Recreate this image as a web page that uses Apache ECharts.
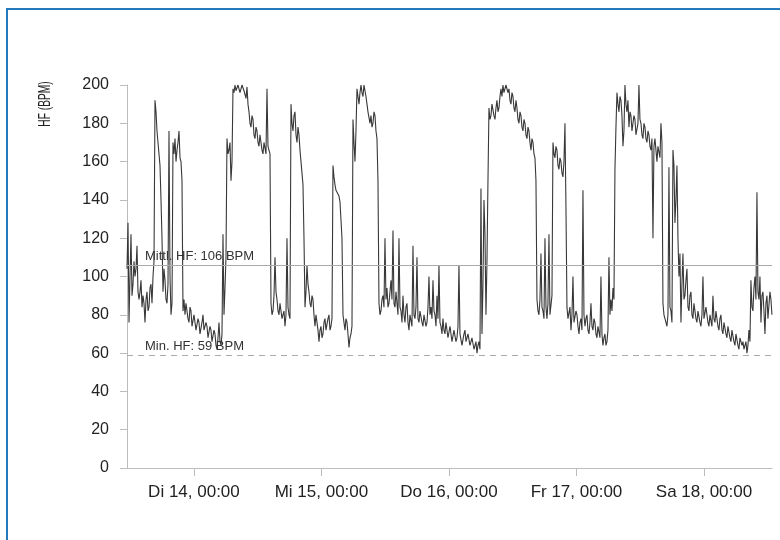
<!DOCTYPE html>
<html>
<head>
<meta charset="utf-8">
<script src="https://cdn.jsdelivr.net/npm/echarts@6/dist/echarts.min.js"></script>
<style>
html,body{margin:0;padding:0;background:#fff;}
#chart{width:780px;height:540px;}
</style>
</head>
<body>
<div id="chart"></div>
<script>
// Heart rate samples (BPM), one every ~11.3 min, starting Mo 13 ~11:24
const startHour = 11.4;      // hours since Mo 13, 00:00
const stepHours = 0.1882;    // sampling interval in hours
const hr = [
104,128,76,100,122,90,96,108,100,104,116,92,88,92,98,84,90,86,76,88,
92,82,84,94,96,86,100,108,192,186,176,170,164,158,140,120,92,104,98,88,
86,96,176,100,80,86,170,164,172,160,166,170,176,162,160,150,82,88,80,86,
86,78,76,84,82,74,74,80,80,72,72,78,76,70,70,76,80,72,72,76,
74,68,68,74,72,66,66,72,70,64,62,68,76,66,64,70,122,80,94,110,
172,164,166,170,150,160,198,196,200,197,197,200,200,196,198,200,200,197,197,193,
199,190,186,180,178,184,182,174,172,178,176,170,168,174,174,166,164,170,170,164,
198,168,166,164,86,80,82,90,110,92,88,82,80,86,86,78,78,82,74,80,
120,84,80,78,190,180,176,184,186,174,170,178,174,166,160,154,148,120,84,92,
106,96,92,86,84,90,88,80,74,80,80,72,66,72,74,68,70,76,78,72,
72,78,80,72,74,78,158,152,148,145,144,146,142,139,140,120,80,76,72,78,
76,70,63,68,70,74,182,170,160,176,198,194,190,196,200,196,194,200,200,194,
190,186,186,180,184,178,180,186,184,176,172,150,86,80,82,88,90,84,120,88,
94,84,86,92,98,88,124,86,84,92,92,80,120,84,82,76,90,80,76,84,
86,76,72,80,80,74,116,80,78,84,110,78,76,82,82,76,74,80,80,74,
76,84,100,80,84,78,98,82,80,74,90,78,106,76,74,70,78,72,70,76,
76,68,68,74,74,66,66,72,72,66,68,74,106,70,70,64,64,70,72,66,
66,70,70,64,64,68,68,62,62,66,60,64,66,62,146,70,96,140,122,80,
108,150,188,182,184,190,190,184,182,188,192,186,188,194,198,194,200,196,196,200,
200,196,198,192,190,196,194,188,186,192,188,182,180,186,184,178,176,182,180,174,
172,178,176,170,166,172,170,164,162,150,88,82,80,88,112,84,82,78,120,84,
78,86,122,80,80,90,170,164,162,168,166,158,156,162,160,154,152,160,180,136,
84,78,78,84,72,80,100,76,76,82,80,74,70,76,78,72,145,80,74,78,
80,72,70,76,86,74,72,78,76,70,68,74,74,68,100,70,64,68,70,64,
66,72,110,80,88,82,94,88,156,178,196,190,186,194,192,184,168,176,200,190,
186,192,178,186,184,176,176,184,182,174,174,180,200,182,180,174,172,180,178,172,
170,176,174,168,166,172,120,168,172,166,160,168,168,162,180,170,86,80,80,76,
74,80,157,84,82,76,166,158,128,140,158,120,100,112,76,96,112,88,90,98,
104,84,82,90,92,80,78,86,86,78,76,82,82,76,74,80,100,78,78,84,
84,76,74,80,80,74,90,78,76,82,82,74,72,78,80,72,70,76,76,70,
68,74,74,68,66,72,72,66,64,70,70,64,62,68,68,64,66,62,62,66,
60,64,72,66,98,84,82,94,100,88,144,92,88,100,76,90,92,82,70,86,
90,78,78,92,88,80
];
const meanHR = 106;
const minHR = 59;
const tickHours = [24, 48, 72, 96, 120];
const tickLabels = ['Di 14, 00:00', 'Mi 15, 00:00', 'Do 16, 00:00', 'Fr 17, 00:00', 'Sa 18, 00:00'];
const xMin = 11.4, xMax = 132.8;

const times = hr.map((_, i) => +(startHour + i * stepHours).toFixed(4));
const seriesData = times.map((t, i) => [t, hr[i]]);

const chart = echarts.init(document.getElementById('chart'), null, {renderer: 'canvas'});
const FONT = '"Liberation Sans", Arial, Helvetica, sans-serif';
chart.setOption({
  animation: false,
  backgroundColor: '#ffffff',
  textStyle: {fontFamily: FONT},
  grid: {left: 127, right: 8, top: 85, bottom: 72, containLabel: false},
  xAxis: {
    type: 'value',
    min: xMin,
    max: xMax,
    axisLine: {show: true, lineStyle: {color: '#bdbdbd', width: 1}},
    axisTick: {show: true, customValues: tickHours, length: 8, lineStyle: {color: '#bdbdbd'}},
    axisLabel: {
      customValues: tickHours,
      formatter: v => tickLabels[tickHours.indexOf(Math.round(v))] || '',
      fontSize: 17, color: '#222', margin: 16, fontFamily: FONT
    },
    splitLine: {show: false}
  },
  yAxis: {
    type: 'value',
    min: 0, max: 200, interval: 20,
    axisLine: {show: true, lineStyle: {color: '#bdbdbd', width: 1}},
    axisTick: {show: true, length: 7, lineStyle: {color: '#bdbdbd'}},
    axisLabel: {fontSize: 16, color: '#222', margin: 18, fontFamily: FONT},
    splitLine: {show: false}
  },
  series: [{
    type: 'line',
    data: seriesData,
    showSymbol: false,
    symbol: 'none',
    sampling: 'none',
    lineStyle: {color: '#383838', width: 1.1},
    markLine: {
      silent: true,
      symbol: ['none', 'none'],
      animation: false,
      data: [
        {yAxis: meanHR, lineStyle: {color: '#aaaaaa', type: 'solid', width: 1.2},
         label: {formatter: 'Mittl. HF: ' + meanHR + ' BPM'}},
        {yAxis: minHR, lineStyle: {color: '#aaaaaa', type: [6, 5], width: 1.2},
         label: {formatter: 'Min. HF: ' + minHR + ' BPM'}}
      ],
      label: {
        show: true,
        position: 'insideStartTop',
        distance: [18, 2],
        fontSize: 13,
        color: '#333',
        fontFamily: FONT
      }
    }
  }],
  graphic: [
    {
      type: 'rect',
      shape: {x: 7, y: 9, width: 800, height: 560},
      style: {fill: 'none', stroke: '#2479bd', lineWidth: 2},
      silent: true, z: 100
    },
    {
      type: 'text',
      x: 45, y: 104,
      rotation: Math.PI / 2,
      scaleX: 0.6,
      style: {text: 'HF (BPM)', fontSize: 17, fill: '#222', align: 'center', verticalAlign: 'middle', fontFamily: FONT},
      silent: true
    }
  ]
});
</script>
</body>
</html>
